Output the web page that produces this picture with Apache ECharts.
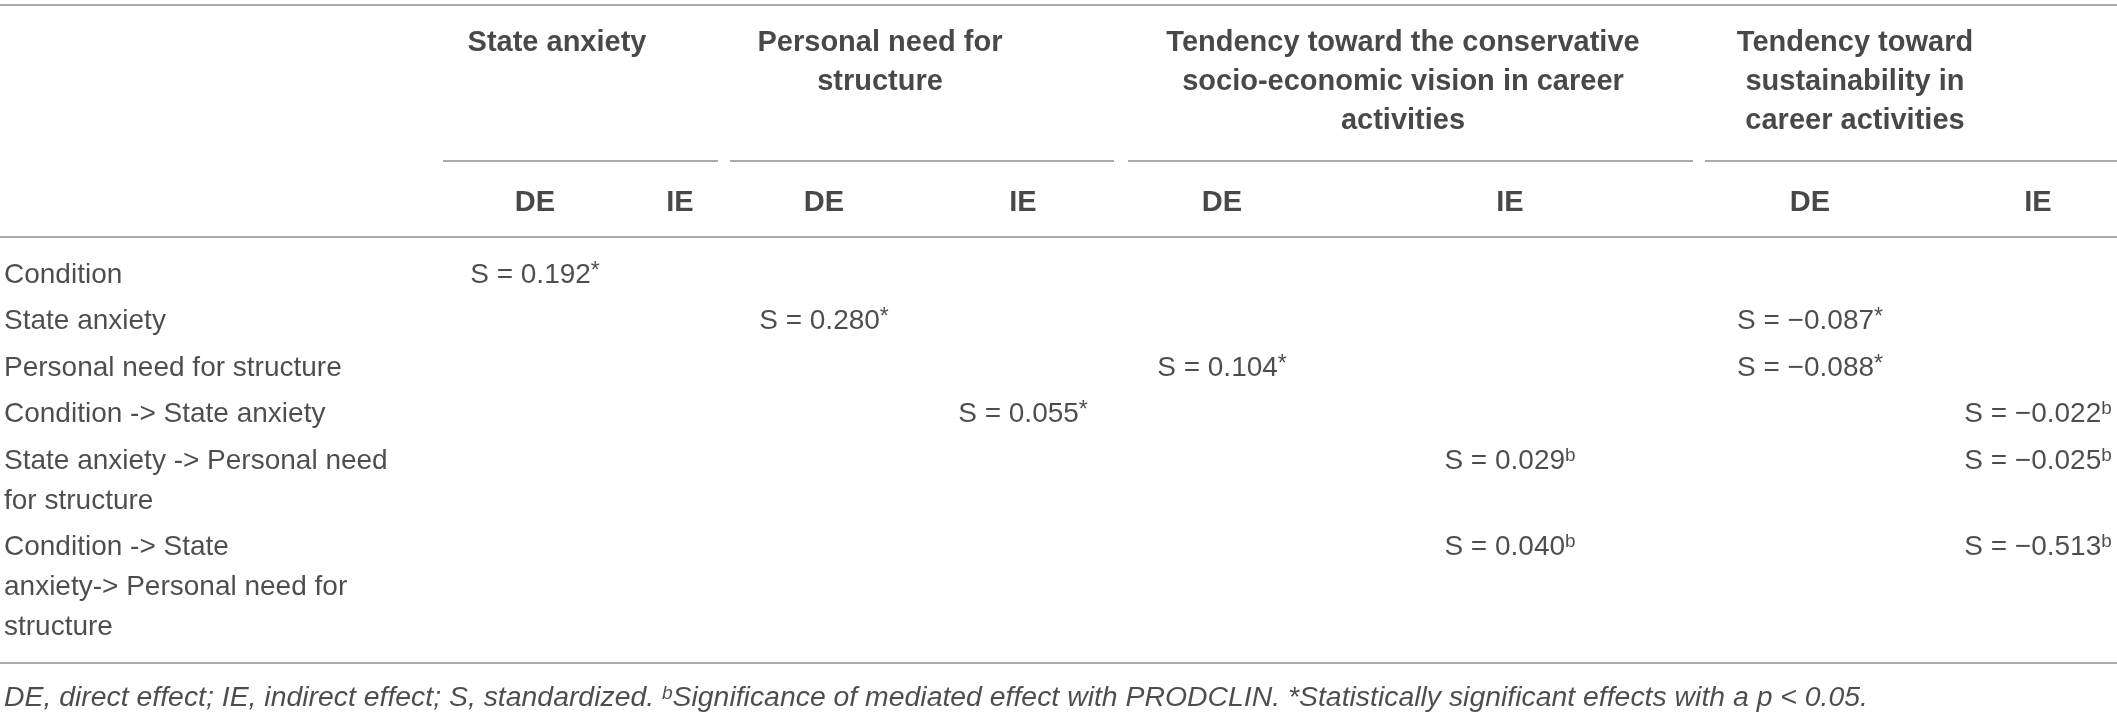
<!DOCTYPE html>
<html>
<head>
<meta charset="utf-8">
<script src="https://cdn.jsdelivr.net/npm/echarts@6/dist/echarts.min.js"></script>
<style>
html,body{margin:0;padding:0;background:#ffffff;}
#chart{width:2117px;height:718px;}
</style>
</head>
<body>
<div id="chart"></div>
<script>
// ---------------- DATA ----------------
const groupHeaders = [
  'State anxiety',
  'Personal need for\nstructure',
  'Tendency toward the conservative\nsocio-economic vision in career\nactivities',
  'Tendency toward\nsustainability in\ncareer activities'
];
const subHeaders = ['DE', 'IE', 'DE', 'IE', 'DE', 'IE', 'DE', 'IE'];
const rowLabels = [
  'Condition',
  'State anxiety',
  'Personal need for structure',
  'Condition -> State anxiety',
  'State anxiety -> Personal need\nfor structure',
  'Condition -> State\nanxiety-> Personal need for\nstructure'
];
// standardized effects per row, 8 columns (DE/IE for each group); null = empty cell
const cellValues = [
  [0.192, null, null,  null,  null,  null,  null,   null],
  [null,  null, 0.280, null,  null,  null,  -0.087, null],
  [null,  null, null,  null,  0.104, null,  -0.088, null],
  [null,  null, null,  0.055, null,  null,  null,   -0.022],
  [null,  null, null,  null,  null,  0.029, null,   -0.025],
  [null,  null, null,  null,  null,  0.040, null,   -0.513]
];
const cellMarks = [
  ['*', '', '',  '',  '',  '',  '',  ''],
  ['',  '', '*', '',  '',  '',  '*', ''],
  ['',  '', '',  '',  '*', '',  '*', ''],
  ['',  '', '',  '*', '',  '',  '',  'b'],
  ['',  '', '',  '',  '',  'b', '',  'b'],
  ['',  '', '',  '',  '',  'b', '',  'b']
];
const footnoteParts = [
  'DE, direct effect; IE, indirect effect; S, standardized. ',
  'b',
  'Significance of mediated effect with PRODCLIN. *Statistically significant effects with a p < 0.05.'
];

// ---------------- LAYOUT (positions / sizes / styles) ----------------
const LAYOUT = {
  W: 2117, H: 718,
  labelX: 4,
  colX: [535, 680, 824, 1023, 1222, 1510, 1810, 2038],
  groupX: [557, 880, 1403, 1855],
  groupSpan: [[443, 718], [730, 1114], [1128, 1693], [1705, 2117]],
  headY0: 43, headLH: 39,
  subY: 203,
  bodyY0: 275, bodyLH: 40, rowPitch: 46.5,
  topRule: 5, groupRule: 161, headRule: 237, bottomRule: 663,
  footY: 698
};
const FONT = 'Liberation Sans, Arial, Helvetica, sans-serif';
const TXT = '#231f20';
const BOLD_TXT = '#1a1a1a';
const RULE = '#8e8e8e';
const SIZE_BOLD = 29, SIZE_REG = 28, SIZE_FOOT = 28.4, SIZE_SUP = 19, SIZE_AST = 23;

// ---------------- BUILD ----------------
function fmtVal(v) {
  return 'S = ' + (v < 0 ? '\u2212' : '') + Math.abs(v).toFixed(3);
}

const texts = [];
function addText(x, y, txt, kind, align) {
  texts.push({ value: [x, y], txt: txt, kind: kind, align: align });
}

// group headers
groupHeaders.forEach((h, gi) => {
  h.split('\n').forEach((line, li) => {
    addText(LAYOUT.groupX[gi], LAYOUT.headY0 + li * LAYOUT.headLH, line, 'bold', 'center');
  });
});
// sub headers
subHeaders.forEach((s, ci) => addText(LAYOUT.colX[ci], LAYOUT.subY, s, 'bold', 'center'));
// body
let rowY = LAYOUT.bodyY0;
rowLabels.forEach((lab, ri) => {
  const lines = lab.split('\n');
  lines.forEach((line, li) => addText(LAYOUT.labelX, rowY + li * LAYOUT.bodyLH, line, 'reg', 'left'));
  cellValues[ri].forEach((v, ci) => {
    if (v === null) return;
    const mark = cellMarks[ri][ci];
    const markTxt = mark ? (mark === '*' ? '{a|*}' : '{s|' + mark + '}') : '';
    addText(LAYOUT.colX[ci], rowY, '{v|' + fmtVal(v) + '}' + markTxt, 'reg', 'center');
  });
  rowY += (lines.length - 1) * LAYOUT.bodyLH + LAYOUT.rowPitch;
});
// footnote
addText(LAYOUT.labelX, LAYOUT.footY,
  '{fi|' + footnoteParts[0] + '}{fs|' + footnoteParts[1] + '}{fi|' + footnoteParts[2] + '}', 'foot', 'left');

const textData = texts.map(t => {
  const base = {
    show: true,
    position: t.align === 'left' ? 'right' : 'inside',
    distance: 0,
    color: TXT,
    fontFamily: FONT
  };
  if (t.kind === 'bold') Object.assign(base, { fontSize: SIZE_BOLD, fontWeight: 'bold', color: BOLD_TXT });
  else if (t.kind === 'foot') Object.assign(base, { fontSize: SIZE_FOOT, fontStyle: 'italic' });
  else Object.assign(base, { fontSize: SIZE_REG });
  return { value: t.value, txt: t.txt, label: base };
});

const rules = [
  [0, LAYOUT.W, LAYOUT.topRule],
  ...LAYOUT.groupSpan.map(s => [s[0], s[1], LAYOUT.groupRule]),
  [0, LAYOUT.W, LAYOUT.headRule],
  [0, LAYOUT.W, LAYOUT.bottomRule]
];

const chart = echarts.init(document.getElementById('chart'), null, { renderer: 'canvas' });
chart.setOption({
  animation: false,
  backgroundColor: '#ffffff',
  grid: { left: 0, right: 0, top: 0, bottom: 0 },
  xAxis: { type: 'value', min: 0, max: LAYOUT.W, show: false },
  yAxis: { type: 'value', min: 0, max: LAYOUT.H, inverse: true, show: false },
  series: [
    {
      type: 'custom',
      silent: true,
      data: rules,
      encode: { x: [0, 1], y: 2 },
      renderItem: function (params, api) {
        const p1 = api.coord([api.value(0), api.value(2)]);
        const p2 = api.coord([api.value(1), api.value(2)]);
        return {
          type: 'line',
          shape: { x1: p1[0], y1: p1[1], x2: p2[0], y2: p2[1] },
          style: { stroke: RULE, lineWidth: 1.6 }
        };
      }
    },
    {
      type: 'scatter',
      silent: true,
      symbolSize: 0,
      data: textData,
      label: {
        show: true,
        formatter: p => p.data.txt,
        rich: {
          v: { fontSize: SIZE_REG, fontFamily: FONT, color: TXT, lineHeight: 30 },
          s: { fontSize: SIZE_SUP, fontFamily: FONT, color: TXT, verticalAlign: 'top', lineHeight: 20 },
          a: { fontSize: SIZE_AST, fontFamily: FONT, color: TXT, verticalAlign: 'top', lineHeight: 24 },
          fi: { fontSize: SIZE_FOOT, fontFamily: FONT, fontStyle: 'italic', color: TXT },
          fs: { fontSize: SIZE_SUP, fontFamily: FONT, fontStyle: 'italic', color: TXT, verticalAlign: 'top', lineHeight: 18 }
        }
      }
    }
  ]
});
</script>
</body>
</html>
